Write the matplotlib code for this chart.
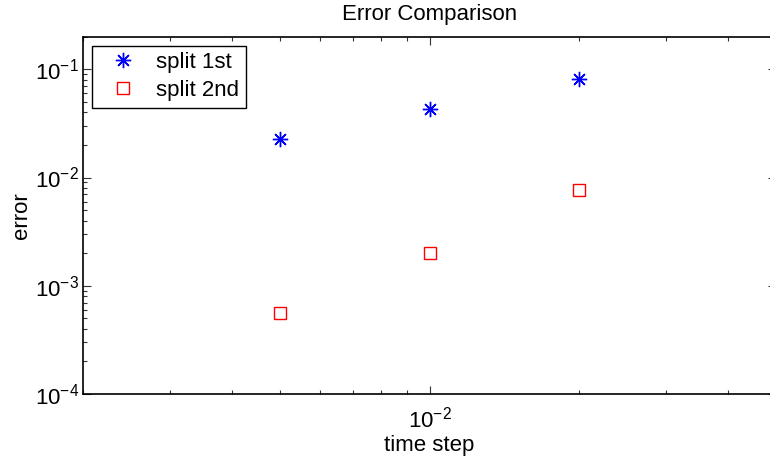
import numpy as np
import matplotlib
matplotlib.use("Agg")
import matplotlib.pyplot as plt

plt.rcParams['font.family'] = ['Liberation Sans', 'DejaVu Sans']
plt.rcParams['mathtext.fontset'] = 'custom'
plt.rcParams['mathtext.rm'] = 'Liberation Sans'
plt.rcParams['mathtext.it'] = 'Liberation Sans'

time_step = [0.005, 0.01, 0.02]
err_first = [0.0227, 0.043, 0.0819]
err_second = [0.000555, 0.0020, 0.00762]
labels = ['split 1st', 'split 2nd']

fig = plt.figure(figsize=(7.7, 4.63), dpi=100)
ax = fig.add_axes([0.1078, 0.149, 0.9, 0.7717])

ax.loglog(time_step, err_first, linestyle='none', marker=(8, 2, 0),
          markersize=11, markeredgewidth=1.0, color='#0000ff', label=labels[0])
ax.loglog(time_step, err_second, linestyle='none', marker='s',
          markersize=9, markeredgewidth=1.0, markerfacecolor='none',
          markeredgecolor='#ff0000', label=labels[1])

ax.set_xlim(0.002, 0.05)
ax.set_ylim(1e-4, 0.2)

ax.tick_params(which='both', direction='in', top=True, right=True,
               labelsize=16, width=0.8, color='#333333')
ax.tick_params(which='major', length=6)
ax.tick_params(which='minor', length=3)
ax.tick_params(axis='x', which='major', pad=9)
ax.tick_params(axis='y', which='major', pad=3)
for s in ax.spines.values():
    s.set_linewidth(1.2)

ax.set_title('Error Comparison', fontsize=16, pad=12)
ax.set_xlabel('time step', fontsize=16, labelpad=2)
ax.set_ylabel('error', fontsize=16, labelpad=2)

leg = ax.legend(loc='upper left', fontsize=16, frameon=True, fancybox=False,
                edgecolor='black', framealpha=1, borderaxespad=0.4,
                handletextpad=0.4, borderpad=0.3, labelspacing=0.3,
                handlelength=2.2)
leg.get_frame().set_linewidth(1.0)

fig.savefig('out.png', dpi=100)
